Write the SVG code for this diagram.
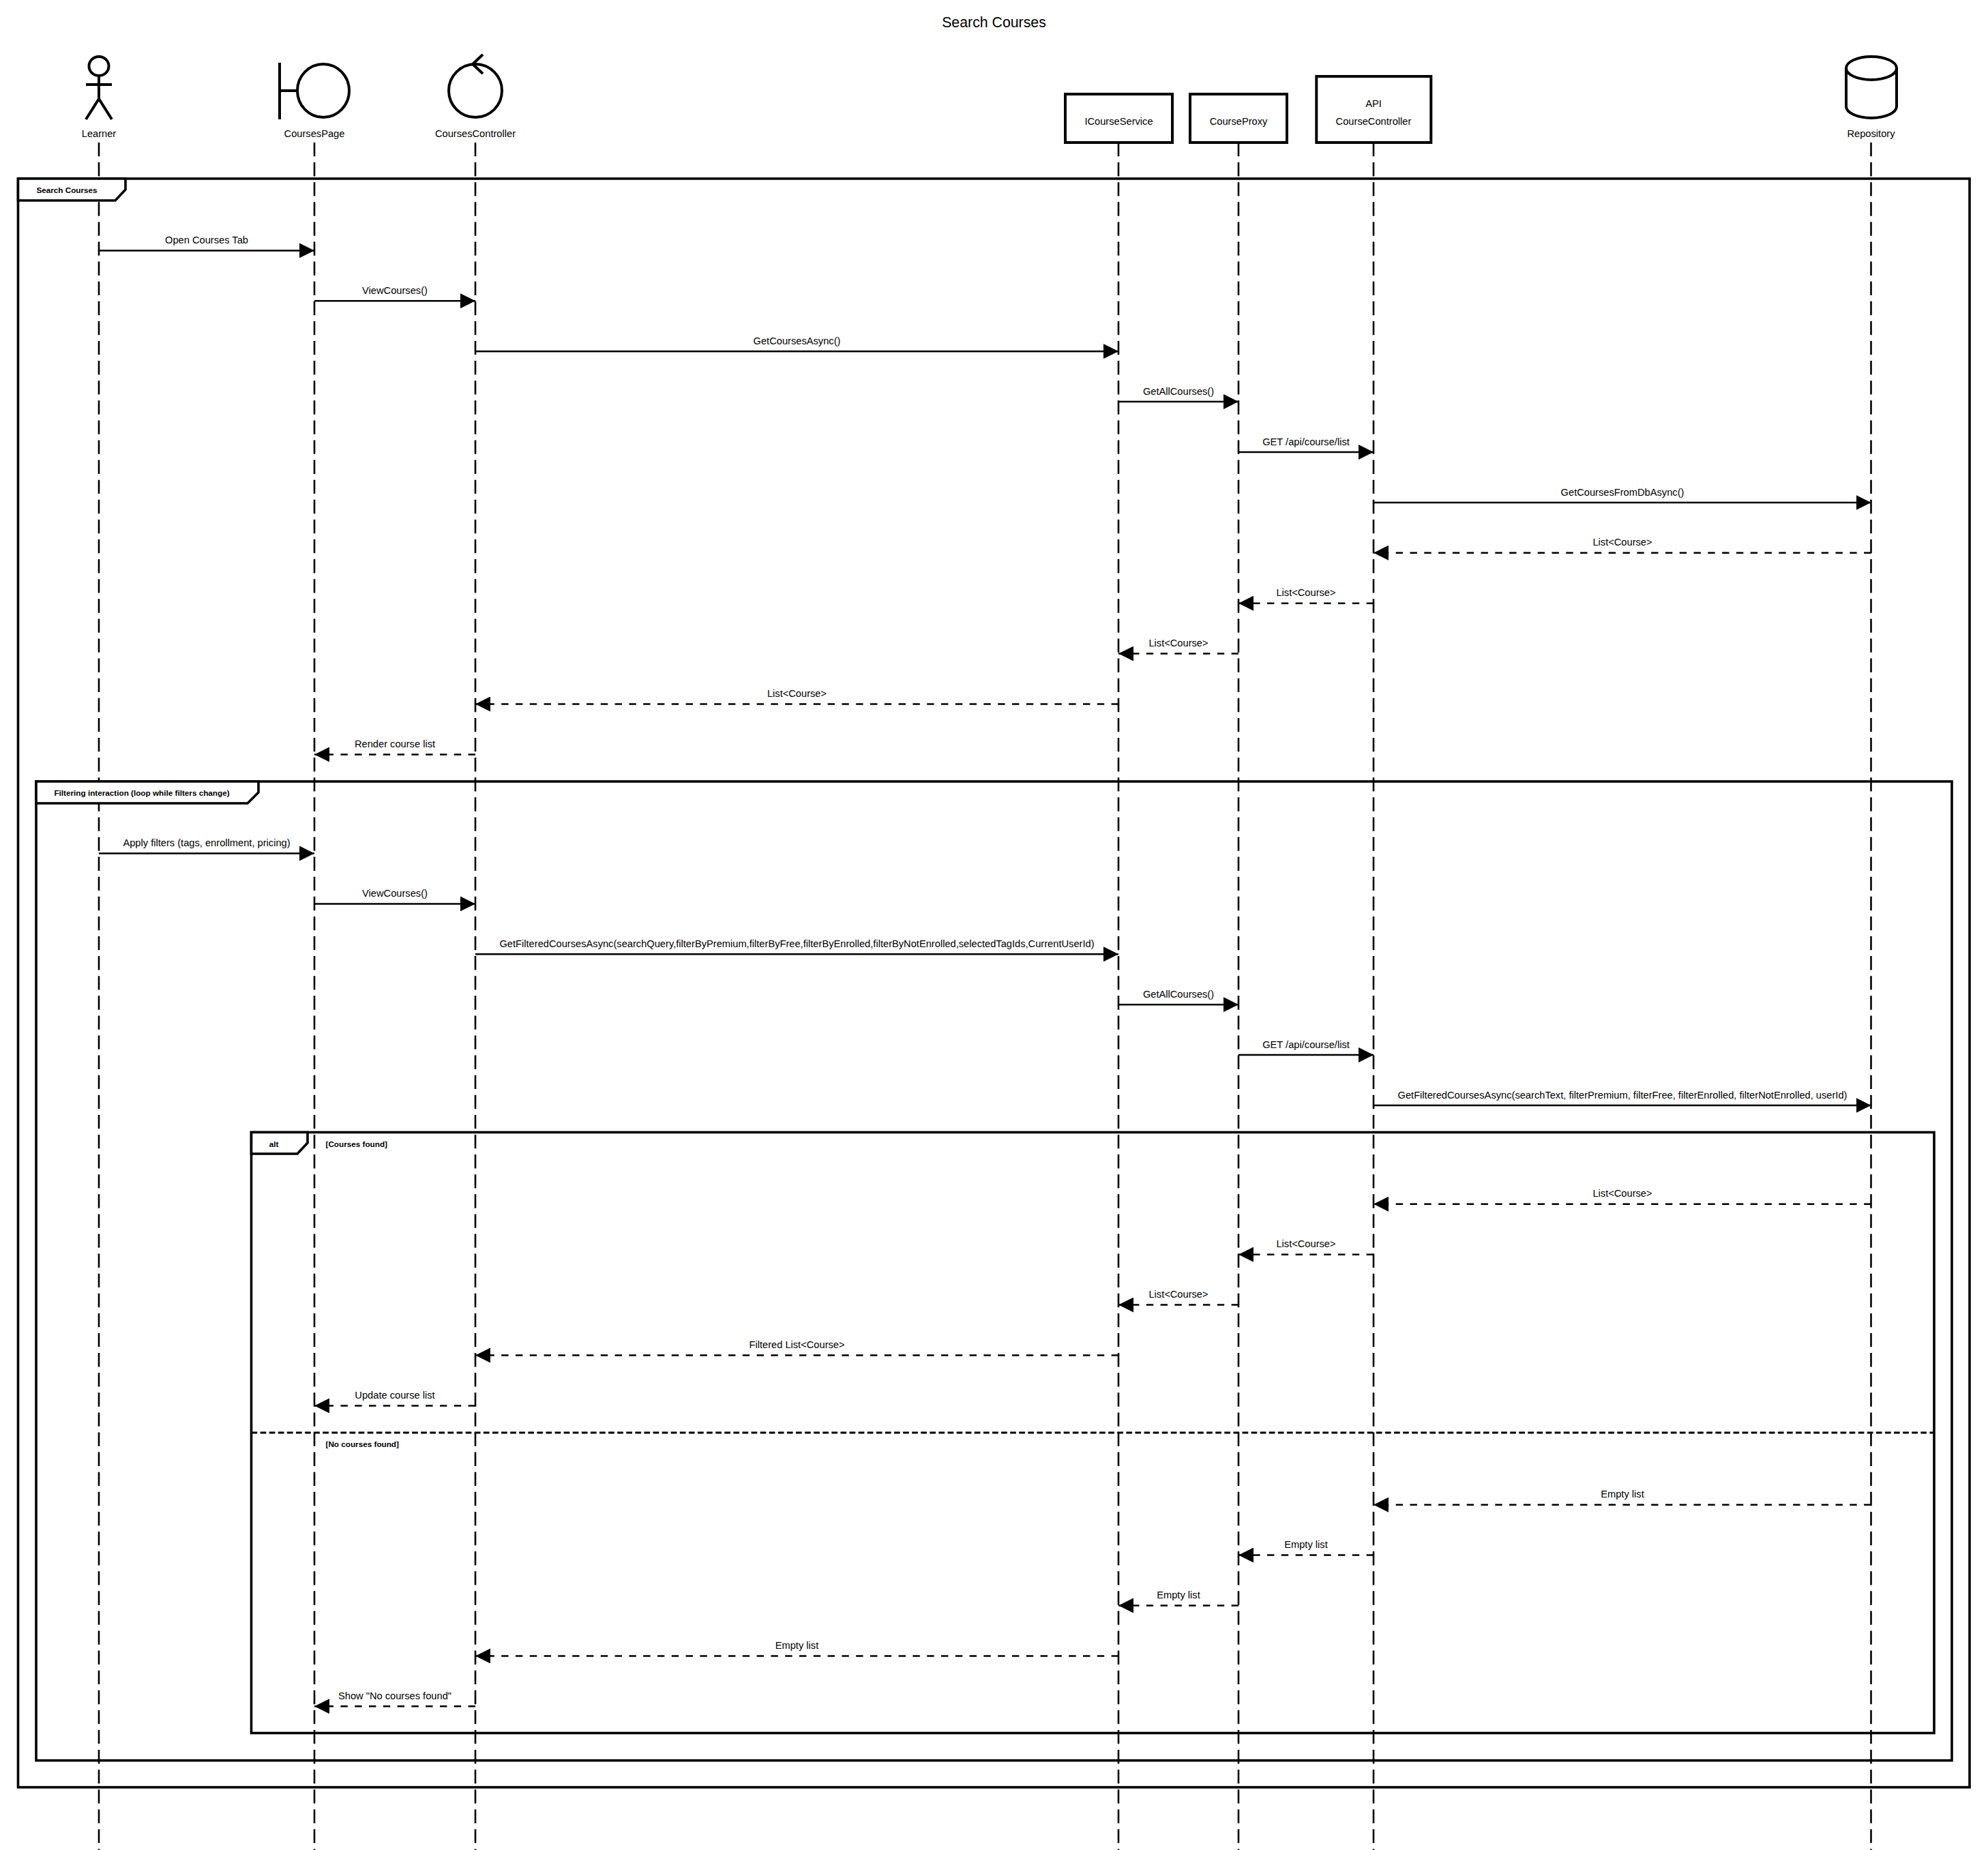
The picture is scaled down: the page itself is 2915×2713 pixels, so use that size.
<svg xmlns="http://www.w3.org/2000/svg" width="2915" height="2713" viewBox="0 0 2915 2713">
<style>
text{font-family:"Liberation Sans",Arial,sans-serif;fill:#000;font-size:14.67px;text-anchor:middle}
.t{font-size:21.3px}
.b{font-size:11.73px;font-weight:bold}
.s{text-anchor:start}
.ll{stroke:#000;stroke-width:2.6;stroke-dasharray:20.37 8.73;fill:none}
.sh{stroke:#000;stroke-width:4;fill:none}
.box{stroke:#000;stroke-width:4;fill:#fff}
.fr{stroke:#000;stroke-width:3.6;fill:none}
.tab{stroke:#000;stroke-width:3.6;fill:#fff}
.div{stroke:#000;stroke-width:3;stroke-dasharray:8.73 4.36;fill:none}
.m{stroke:#000;stroke-width:2.5;fill:none;marker-end:url(#ah)}
.r{stroke-dasharray:10.4 10.4}
</style>
<defs>
<marker id="ah" markerUnits="userSpaceOnUse" viewBox="0 0 22 22" markerWidth="22" markerHeight="22" refX="22" refY="11" orient="auto"><path d="M0 0L22 11L0 22Z" fill="#000"/></marker>
</defs>
<rect width="2915" height="2713" fill="#fff"/>
<text class="t" x="1457.5" y="40">Search Courses</text>
<g id="lifelines">
<path class="ll" d="M145 209V2713"/>
<path class="ll" d="M461 209V2713"/>
<path class="ll" d="M697 209V2713"/>
<path class="ll" d="M1640 209V2713"/>
<path class="ll" d="M1816 209V2713"/>
<path class="ll" d="M2014 209V2713"/>
<path class="ll" d="M2743.5 209V2713"/>
</g>
<g id="learner">
<ellipse class="sh" cx="145" cy="97" rx="14.5" ry="14"/>
<path class="sh" d="M145 111V145M126 124H164M126 175L145 145L164 175"/>
<text x="145" y="201">Learner</text>
</g>
<g id="coursesPage">
<path class="sh" d="M410 92V175M410 133H436"/>
<ellipse class="sh" cx="474" cy="133" rx="38" ry="39"/>
<text x="461" y="201">CoursesPage</text>
</g>
<g id="coursesController">
<circle class="sh" cx="697" cy="133" r="39"/>
<path class="sh" d="M708 80L693 94L708 108"/>
<text x="697" y="201">CoursesController</text>
</g>
<g id="iCourseService">
<rect class="box" x="1562" y="138" width="157" height="71"/>
<text x="1640.5" y="183">ICourseService</text>
</g>
<g id="courseProxy">
<rect class="box" x="1745" y="138" width="142" height="71"/>
<text x="1816" y="183">CourseProxy</text>
</g>
<g id="apiCourseController">
<rect class="box" x="1930.3" y="112" width="168" height="97"/>
<text x="2014" y="157">API</text>
<text x="2014" y="183">CourseController</text>
</g>
<g id="repository">
<path class="sh" d="M2707 100A37 17 0 0 1 2781 100V156A37 17 0 0 1 2707 156ZM2707 100A37 17 0 0 0 2781 100"/>
<text x="2743.5" y="201">Repository</text>
</g>
<g id="frame-search">
<rect class="fr" x="26.5" y="262" width="2861.5" height="2359"/>
<path class="tab" d="M26.5 262H184V278L169 294H26.5Z"/>
<text class="b" x="98" y="283">Search Courses</text>
</g>
<g id="frame-filter">
<rect class="fr" x="53" y="1146" width="2809" height="1435.7"/>
<path class="tab" d="M53 1146H379V1162L363 1178H53Z"/>
<text class="b" x="208" y="1167">Filtering interaction (loop while filters change)</text>
</g>
<g id="frame-alt">
<rect class="fr" x="368.5" y="1660.5" width="2467.5" height="881"/>
<path class="tab" d="M368.5 1660.5H451V1676L436 1692H368.5Z"/>
<text class="b" x="401.5" y="1681.5">alt</text>
<text class="b s" x="477.5" y="1681.5">[Courses found]</text>
<path class="div" d="M368.5 2101H2836"/>
<text class="b s" x="477.5" y="2122">[No courses found]</text>
</g>
<g id="connectors">
<path class="m" d="M145 367.4H461"/><text x="303" y="357">Open Courses Tab</text>
<path class="m" d="M461 441.3H697"/><text x="579" y="430.9">ViewCourses()</text>
<path class="m" d="M697 515.2H1640"/><text x="1168.5" y="504.8">GetCoursesAsync()</text>
<path class="m" d="M1640 589.1H1816"/><text x="1728" y="578.7">GetAllCourses()</text>
<path class="m" d="M1816 663H2014"/><text x="1915" y="652.6">GET /api/course/list</text>
<path class="m" d="M2014 736.9H2743.5"/><text x="2379" y="726.5">GetCoursesFromDbAsync()</text>
<path class="m r" d="M2743.5 810.8H2014"/><text x="2379" y="800.4">List&lt;Course&gt;</text>
<path class="m r" d="M2014 884.7H1816"/><text x="1915" y="874.3">List&lt;Course&gt;</text>
<path class="m r" d="M1816 958.6H1640"/><text x="1728" y="948.2">List&lt;Course&gt;</text>
<path class="m r" d="M1640 1032.5H697"/><text x="1168.5" y="1022.1">List&lt;Course&gt;</text>
<path class="m r" d="M697 1106.4H461"/><text x="579" y="1096">Render course list</text>
<path class="m" d="M145 1251.5H461"/><text x="303" y="1241.1">Apply filters (tags, enrollment, pricing)</text>
<path class="m" d="M461 1325.4H697"/><text x="579" y="1315">ViewCourses()</text>
<path class="m" d="M697 1399.3H1640"/><text x="1168.5" y="1388.9">GetFilteredCoursesAsync(searchQuery,filterByPremium,filterByFree,filterByEnrolled,filterByNotEnrolled,selectedTagIds,CurrentUserId)</text>
<path class="m" d="M1640 1473.2H1816"/><text x="1728" y="1462.8">GetAllCourses()</text>
<path class="m" d="M1816 1547.1H2014"/><text x="1915" y="1536.7">GET /api/course/list</text>
<path class="m" d="M2014 1621H2743.5"/><text x="2379" y="1610.6">GetFilteredCoursesAsync(searchText, filterPremium, filterFree, filterEnrolled, filterNotEnrolled, userId)</text>
<path class="m r" d="M2743.5 1765.8H2014"/><text x="2379" y="1755.4">List&lt;Course&gt;</text>
<path class="m r" d="M2014 1839.7H1816"/><text x="1915" y="1829.3">List&lt;Course&gt;</text>
<path class="m r" d="M1816 1913.6H1640"/><text x="1728" y="1903.2">List&lt;Course&gt;</text>
<path class="m r" d="M1640 1987.5H697"/><text x="1168.5" y="1977.1">Filtered List&lt;Course&gt;</text>
<path class="m r" d="M697 2061.4H461"/><text x="579" y="2051">Update course list</text>
<path class="m r" d="M2743.5 2206.7H2014"/><text x="2379" y="2196.3">Empty list</text>
<path class="m r" d="M2014 2280.6H1816"/><text x="1915" y="2270.2">Empty list</text>
<path class="m r" d="M1816 2354.5H1640"/><text x="1728" y="2344.1">Empty list</text>
<path class="m r" d="M1640 2428.4H697"/><text x="1168.5" y="2418">Empty list</text>
<path class="m r" d="M697 2502.3H461"/><text x="579" y="2491.9">Show "No courses found"</text>
</g>
</svg>
